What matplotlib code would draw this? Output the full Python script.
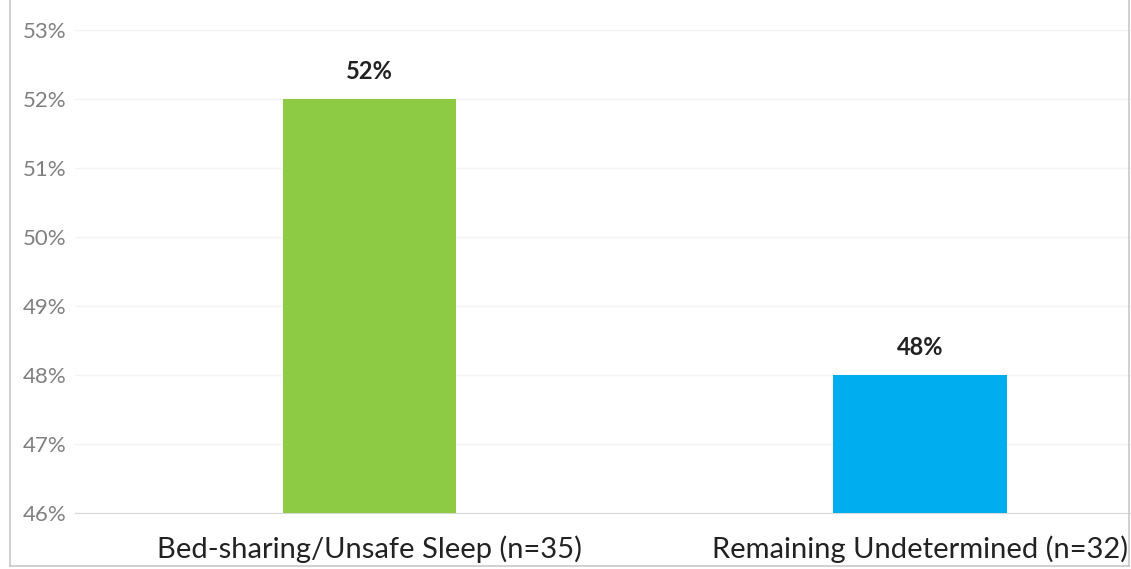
import matplotlib
matplotlib.use("Agg")
import matplotlib.pyplot as plt
from matplotlib.lines import Line2D
from matplotlib.ticker import FuncFormatter

categories = ["Bed-sharing/Unsafe Sleep (n=35)", "Remaining Undetermined (n=32)"]
shares = [52, 48]
bar_colors = ["#8DCB45", "#00ADEF"]
y_ticks = [46, 47, 48, 49, 50, 51, 52, 53]

plt.rcParams["font.family"] = ["Lato", "DejaVu Sans"]

fig = plt.figure(figsize=(11.31, 5.69), dpi=100)
ax = fig.add_axes([0.066, 0.098, 0.934, 0.849])

x = list(range(len(categories)))
bars = ax.bar(x, shares, width=0.316, color=bar_colors, zorder=3)

for rect, v in zip(bars, shares):
    ax.annotate(f"{v}%", (rect.get_x() + rect.get_width() / 2, v),
                xytext=(0, 12), textcoords="offset points",
                ha="center", va="bottom", fontsize=17, fontweight="bold",
                color="#222222")

ax.set_xlim(-0.536, 1.384)
ax.set_ylim(46, 53)
ax.set_yticks(y_ticks)
ax.yaxis.set_major_formatter(FuncFormatter(lambda v, _: f"{v:.0f}%"))
ax.set_xticks(x)
ax.set_xticklabels(categories, fontsize=21, color="#222222")

ax.grid(axis="y", color="#f3f3f3", linewidth=1, zorder=0)
ax.tick_params(axis="y", length=0, labelsize=16, labelcolor="#808080", pad=6)
ax.tick_params(axis="x", length=0, pad=16)
for side in ["top", "right", "left"]:
    ax.spines[side].set_visible(False)
ax.spines["bottom"].set_color("#d9d9d9")

# thin chart-area frame (left, right, bottom)
frame_kw = dict(transform=fig.transFigure, color="#c8c8c8", linewidth=1.2)
fig.add_artist(Line2D([0.009, 0.009], [0.005, 1.0], **frame_kw))
fig.add_artist(Line2D([0.998, 0.998], [0.005, 1.0], **frame_kw))
fig.add_artist(Line2D([0.009, 0.998], [0.005, 0.005], **frame_kw))

fig.savefig("out.png", dpi=100)
